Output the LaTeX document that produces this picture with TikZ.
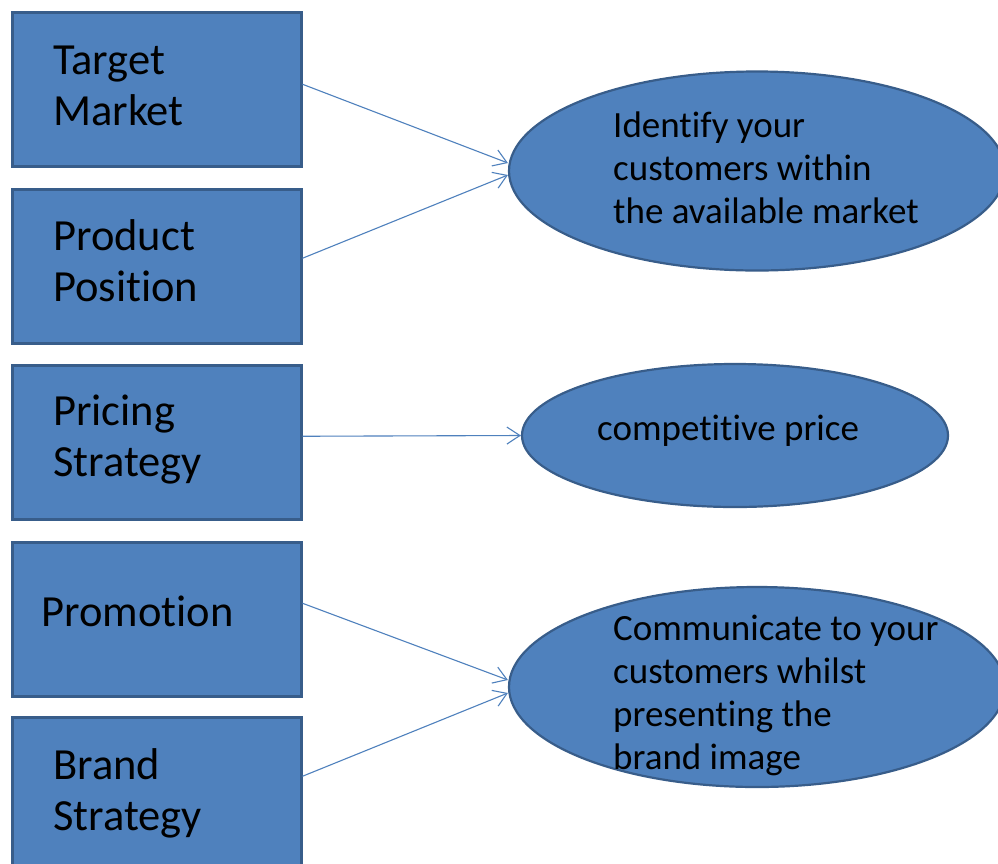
\documentclass[tikz,border=0pt]{standalone}
\usepackage{fontspec}
\setmainfont{Carlito}[Ligatures={NoCommon}]
\usetikzlibrary{arrows.meta,shapes.geometric}
\definecolor{fillblue}{HTML}{4F81BD}
\definecolor{edgeblue}{HTML}{385D8A}
\begin{document}
\begin{tikzpicture}[x=1pt,y=-1pt,
 box/.style={draw=edgeblue, fill=fillblue, line width=2.5pt, minimum width=289pt, minimum height=154pt, inner sep=0pt, anchor=north west},
 oval/.style={ellipse, draw=edgeblue, fill=fillblue, line width=2.2pt, inner sep=0pt},
 boxtext/.style={font=\fontsize{44.5}{51}\selectfont, align=left, anchor=west, inner sep=0pt},
 ovaltext/.style={font=\fontsize{37}{43}\selectfont, align=left, anchor=west, inner sep=0pt},
 link/.style={draw=fillblue, line width=1.1pt, -{Straight Barb[length=13pt,width=17pt]}}]
\useasboundingbox (0,0) rectangle (998,863);
\clip (0,0) rectangle (998,863);
\fill[white] (0,0) rectangle (998,863);
% boxes
\node[box] (b1) at (11,11) {};
\node[box] (b2) at (11,188) {};
\node[box] (b3) at (11,364) {};
\node[box] (b4) at (11,541) {};
\node[box] (b5) at (11,716) {};
\node[boxtext] (t1) at (53,86) {Target\\Market};
\node[boxtext] (t2) at (53,261) {Product\\Position};
\node[boxtext] (t3) at (53,440) {Pricing\\Strategy};
\node[boxtext] (t4) at (41,611) {Promotion};
\node[boxtext] (t5) at (53,793) {Brand\\Strategy};
% ellipses
\node[oval, minimum width=496pt, minimum height=199pt] (e1) at (757,171) {};
\node[oval, minimum width=426pt, minimum height=143pt] (e2) at (735,435.5) {};
\node[oval, minimum width=496pt, minimum height=200pt] (e3) at (757,687) {};
\node[ovaltext] (o1) at (613,168) {Identify your\\customers within\\the available market};
\node[ovaltext] (o2) at (597,431) {competitive price};
\node[ovaltext] (o3) at (613,695) {Communicate to your\\customers whilst\\presenting the\\brand image};
% connectors
\draw[link] ([yshift=5pt]b1.east) -- ([yshift=8pt]e1.west);
\draw[link] ([yshift=8pt]b2.east) -- ([yshift=-4pt]e1.west);
\draw[link] ([yshift=6pt]b3.east) -- (e2.west);
\draw[link] ([yshift=16pt]b4.east) -- ([yshift=7pt]e3.west);
\draw[link] ([yshift=18pt]b5.east) -- ([yshift=-6pt]e3.west);
\end{tikzpicture}
\end{document}
